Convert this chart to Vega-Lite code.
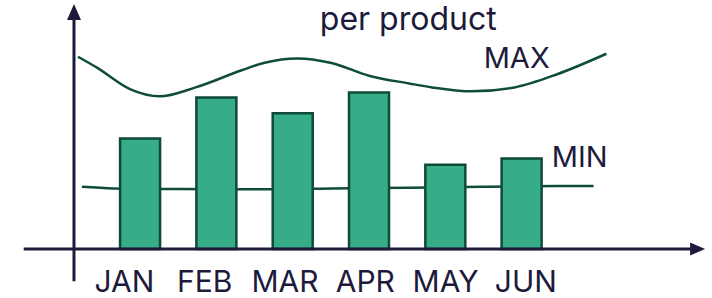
{
  "$schema": "https://vega.github.io/schema/vega-lite/v6.json",
  "width": 712,
  "height": 298,
  "autosize": {"type": "fit", "contains": "padding"},
  "padding": 0,
  "background": "white",
  "config": {"view": {"stroke": null}},
  "datasets": {
    "sales": [
      {"month": "JAN", "idx": 1, "value": 111.5},
      {"month": "FEB", "idx": 2, "value": 153},
      {"month": "MAR", "idx": 3, "value": 137},
      {"month": "APR", "idx": 4, "value": 158},
      {"month": "MAY", "idx": 5, "value": 85},
      {"month": "JUN", "idx": 6, "value": 91.5}
    ],
    "bounds": [
      {"series": "MAX", "t": 0.186, "value": 194.2},
      {"series": "MAX", "t": 0.435, "value": 183.2},
      {"series": "MAX", "t": 0.867, "value": 161.5},
      {"series": "MAX", "t": 1.255, "value": 154.2},
      {"series": "MAX", "t": 1.727, "value": 163.2},
      {"series": "MAX", "t": 2.331, "value": 180.5},
      {"series": "MAX", "t": 2.632, "value": 188.2},
      {"series": "MAX", "t": 3.063, "value": 192.5},
      {"series": "MAX", "t": 3.494, "value": 188.2},
      {"series": "MAX", "t": 4.010, "value": 174.8},
      {"series": "MAX", "t": 4.527, "value": 167.2},
      {"series": "MAX", "t": 4.828, "value": 163.2},
      {"series": "MAX", "t": 5.345, "value": 159.2},
      {"series": "MAX", "t": 5.906, "value": 163.2},
      {"series": "MAX", "t": 6.465, "value": 176.5},
      {"series": "MAX", "t": 7.111, "value": 197.2},
      {"series": "MIN", "t": 0.238, "value": 62.8},
      {"series": "MIN", "t": 0.651, "value": 61.2},
      {"series": "MIN", "t": 1.478, "value": 60.5},
      {"series": "MIN", "t": 2.499, "value": 60.2},
      {"series": "MIN", "t": 3.532, "value": 61.2},
      {"series": "MIN", "t": 4.540, "value": 61.8},
      {"series": "MIN", "t": 5.484, "value": 62.8},
      {"series": "MIN", "t": 6.465, "value": 63.5},
      {"series": "MIN", "t": 6.943, "value": 63.5}
    ]
  },
  "resolve": {"scale": {"x": "independent"}},
  "layer": [
    {
      "layer": [
        {
          "data": {"name": "bounds"},
          "mark": {"type": "line", "interpolate": "monotone", "color": "#0f4d3b", "strokeWidth": 2.5},
          "encoding": {
            "x": {"field": "t", "type": "quantitative", "scale": {"domain": [-0.770, 8.429], "nice": false, "zero": false}, "axis": null},
            "y": {"field": "value", "type": "quantitative", "scale": {"domain": [-46.5, 251.5], "nice": false, "zero": false}, "axis": null},
            "detail": {"field": "series"}
          }
        },
        {
          "data": {"name": "sales"},
          "mark": {"type": "bar", "size": 40, "fill": "#37ac89", "stroke": "#0f4a38", "strokeWidth": 2.5},
          "encoding": {
            "x": {"field": "idx", "type": "quantitative", "scale": {"domain": [-0.770, 8.429], "nice": false, "zero": false}, "axis": null},
            "y": {"field": "value", "type": "quantitative", "scale": {"domain": [-46.5, 251.5], "nice": false, "zero": false}, "axis": null}
          }
        },
        {
          "data": {"values": [{}]},
          "mark": {"type": "rule", "color": "#1c1b3b", "strokeWidth": 3},
          "encoding": {
            "x": {"datum": -0.525, "type": "quantitative", "scale": {"domain": [-0.770, 8.429], "nice": false, "zero": false}, "axis": null},
            "x2": {"datum": 8.235},
            "y": {"datum": 0, "type": "quantitative", "scale": {"domain": [-46.5, 251.5], "nice": false, "zero": false}, "axis": null}
          }
        },
        {
          "data": {"values": [{}]},
          "mark": {"type": "rule", "color": "#1c1b3b", "strokeWidth": 3},
          "encoding": {
            "x": {"datum": 0.134, "type": "quantitative", "scale": {"domain": [-0.770, 8.429], "nice": false, "zero": false}, "axis": null},
            "y": {"datum": -32.5, "type": "quantitative", "scale": {"domain": [-46.5, 251.5], "nice": false, "zero": false}, "axis": null},
            "y2": {"datum": 231.5}
          }
        },
        {
          "data": {"values": [{}]},
          "mark": {"type": "point", "shape": "M0,-1L-0.875,1L0.875,1Z", "size": 256, "filled": true, "opacity": 1, "color": "#1c1b3b", "strokeWidth": 0},
          "encoding": {
            "x": {"datum": 0.134, "type": "quantitative", "scale": {"domain": [-0.770, 8.429], "nice": false, "zero": false}, "axis": null},
            "y": {"datum": 239.5, "type": "quantitative", "scale": {"domain": [-46.5, 251.5], "nice": false, "zero": false}, "axis": null}
          }
        },
        {
          "data": {"values": [{}]},
          "mark": {"type": "point", "shape": "M1,0L-1,-0.867L-1,0.867Z", "size": 225, "filled": true, "opacity": 1, "color": "#1c1b3b", "strokeWidth": 0},
          "encoding": {
            "x": {"datum": 8.306, "type": "quantitative", "scale": {"domain": [-0.770, 8.429], "nice": false, "zero": false}, "axis": null},
            "y": {"datum": 0, "type": "quantitative", "scale": {"domain": [-46.5, 251.5], "nice": false, "zero": false}, "axis": null}
          }
        },
        {
          "data": {"values": [{}]},
          "mark": {"type": "text", "text": "MAX", "font": "Inter", "fontSize": 29, "color": "#1d1b3c", "align": "center", "baseline": "alphabetic"},
          "encoding": {
            "x": {"datum": 5.935, "type": "quantitative", "scale": {"domain": [-0.770, 8.429], "nice": false, "zero": false}, "axis": null},
            "y": {"datum": 183.2, "type": "quantitative", "scale": {"domain": [-46.5, 251.5], "nice": false, "zero": false}, "axis": null}
          }
        },
        {
          "data": {"values": [{}]},
          "mark": {"type": "text", "text": "MIN", "font": "Inter", "fontSize": 29, "color": "#1d1b3c", "align": "center", "baseline": "alphabetic"},
          "encoding": {
            "x": {"datum": 6.762, "type": "quantitative", "scale": {"domain": [-0.770, 8.429], "nice": false, "zero": false}, "axis": null},
            "y": {"datum": 83.2, "type": "quantitative", "scale": {"domain": [-46.5, 251.5], "nice": false, "zero": false}, "axis": null}
          }
        },
        {
          "data": {"values": [{}]},
          "mark": {"type": "text", "text": "per product", "font": "Inter", "fontSize": 32, "color": "#1d1b3c", "align": "center", "baseline": "alphabetic"},
          "encoding": {
            "x": {"datum": 4.514, "type": "quantitative", "scale": {"domain": [-0.770, 8.429], "nice": false, "zero": false}, "axis": null},
            "y": {"datum": 221.5, "type": "quantitative", "scale": {"domain": [-46.5, 251.5], "nice": false, "zero": false}, "axis": null}
          }
        }
      ]
    },
    {
      "data": {"name": "sales"},
      "mark": {"type": "text", "font": "Inter", "fontSize": 30, "color": "#1d1b3c", "align": "center", "baseline": "alphabetic"},
      "encoding": {
        "x": {"field": "idx", "type": "quantitative", "scale": {"domain": [-0.549, 8.318], "nice": false, "zero": false}, "axis": null},
        "y": {"datum": -43.5, "type": "quantitative", "scale": {"domain": [-46.5, 251.5], "nice": false, "zero": false}, "axis": null},
        "text": {"field": "month"}
      }
    }
  ]
}
